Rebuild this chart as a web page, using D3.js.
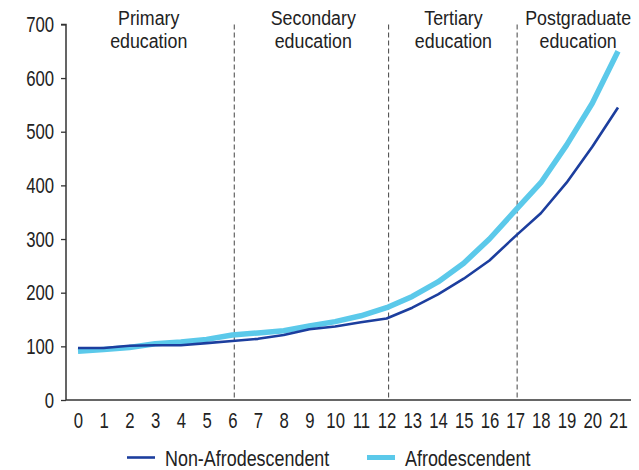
<!DOCTYPE html>
<html><head><meta charset="utf-8">
<script src="https://cdn.jsdelivr.net/npm/d3@7"></script>
<style>
body{margin:0;background:#fff;}
text{font-family:"Liberation Sans",Arial,sans-serif;fill:#222;}
</style></head>
<body><svg id="c" width="639" height="470"></svg>
<script>
const years = [0,1,2,3,4,5,6,7,8,9,10,11,12,13,14,15,16,17,18,19,20,21];
const nonAfro = [97,97,101,102,102,106,110,114,121,132,137,145,152,172,197,226,260,305,348,405,472,545];
const afro    = [91,94,98,105,108,113,121,125,129,138,146,157,172,193,220,255,300,353,405,475,553,650];
const yTicks = [0,100,200,300,400,500,600,700];
const dividers = [6,12,17];
const stageNames = [["Primary","education"],["Secondary","education"],["Tertiary","education"],["Postgraduate","education"]];
const stageCenters = [2.75,9.15,14.6,19.45];
const seriesNames = ["Non-Afrodescendent","Afrodescendent"];
const colors = ["#1c3e9e","#5bc9ea"];
const widths = [2.6,5.5];
const SX = 0.76;   // condensed horizontal scale for numbers
const SXT = 0.815; // condensed horizontal scale for legend words
const SXS = 0.89;  // condensed horizontal scale for stage labels

const svg = d3.select("#c");
const x = d3.scaleLinear().domain([0,21]).range([78,618]);
const y = d3.scaleLinear().domain([0,700]).range([400,24.4]);

// dashed dividers
svg.selectAll("line.div").data(dividers).enter().append("line")
  .attr("x1",d=>x(d)+2).attr("x2",d=>x(d)+2).attr("y1",y(700)).attr("y2",y(0))
  .attr("stroke","#555").attr("stroke-width",1.1).attr("stroke-dasharray","5,3");

// y axis
const ya = svg.append("g").attr("transform","translate(66,0)")
  .call(d3.axisLeft(y).tickValues(yTicks).tickSize(5).tickPadding(7));
ya.select(".domain").attr("stroke","#333").attr("stroke-width",1.5).attr("d",`M-5,${y(700)}H0V${y(0)}`);
ya.selectAll(".tick line").attr("stroke","#333").attr("stroke-width",1.3);
ya.selectAll("text").attr("font-size",22).style("font-family",'"Liberation Sans",Arial,sans-serif').attr("fill","#222")
  .attr("x",-12/SX).attr("transform",`scale(${SX},1)`);

// x axis
const xa = svg.append("g").attr("transform","translate(0,400)")
  .call(d3.axisBottom(x).tickValues(years).tickSize(0).tickPadding(12).tickFormat(d3.format("d")));
xa.select(".domain").attr("stroke","#333").attr("stroke-width",1.5).attr("d",`M66,0H631`);
xa.selectAll("text").attr("font-size",22).style("font-family",'"Liberation Sans",Arial,sans-serif').attr("fill","#222")
  .attr("transform",`scale(${SX},1)`);

// lines
const line = d3.line().x((d,i)=>x(years[i])).y(d=>y(d));
svg.append("path").datum(afro).attr("d",line).attr("fill","none")
  .attr("stroke",colors[1]).attr("stroke-width",widths[1]).attr("stroke-linejoin","round");
svg.append("path").datum(nonAfro).attr("d",line).attr("fill","none")
  .attr("stroke",colors[0]).attr("stroke-width",widths[0]).attr("stroke-linejoin","round");

// stage labels
stageNames.forEach((nm,i)=>{
  const g = svg.append("g").attr("transform",`translate(${x(stageCenters[i])},0) scale(${SXS},1)`);
  g.append("text").attr("x",0).attr("y",25.5).attr("text-anchor","middle").attr("font-size",20).text(nm[0]);
  g.append("text").attr("x",0).attr("y",48).attr("text-anchor","middle").attr("font-size",20).text(nm[1]);
});

// legend
const legX = [127,367];
seriesNames.forEach((n,i)=>{
  svg.append("line").attr("x1",legX[i]).attr("x2",legX[i]+28).attr("y1",457.5).attr("y2",457.5)
    .attr("stroke",colors[i]).attr("stroke-width",i===0?2.6:5);
  svg.append("g").attr("transform",`translate(${legX[i]+38},466) scale(${SXT},1)`)
    .append("text").attr("x",0).attr("y",0).attr("font-size",22).text(n);
});
</script></body></html>
